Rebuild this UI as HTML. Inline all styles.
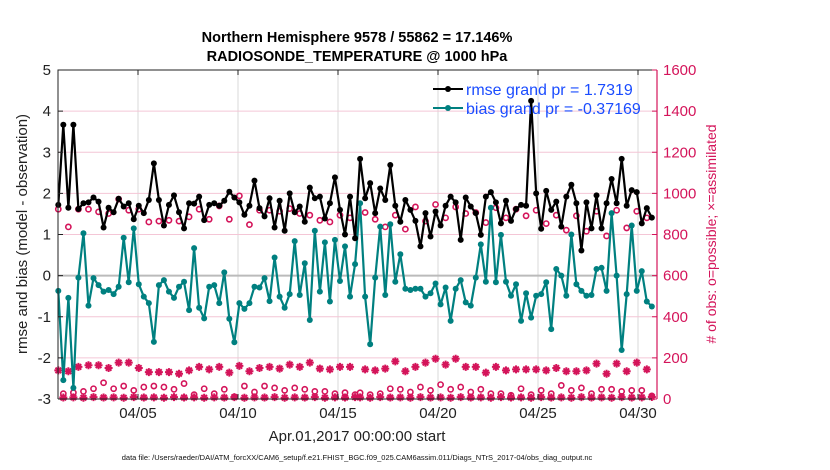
<!DOCTYPE html>
<html><head><meta charset="utf-8">
<style>
html,body{margin:0;padding:0;background:#fff;}
svg{display:block;font-family:"Liberation Sans",Arial,sans-serif;}
</style></head>
<body>
<svg id="chart" width="830" height="470" viewBox="0 0 830 470">
<g>
<text x="357" y="42" text-anchor="middle" font-size="14.5" font-weight="bold">Northern Hemisphere 9578 / 55862 = 17.146%</text>
<text x="357" y="61" text-anchor="middle" font-size="14.5" font-weight="bold">RADIOSONDE_TEMPERATURE @ 1000 hPa</text>
</g>
<g id="grid"></g>
<g id="series"></g>
<g id="axes"></g>
<g>
<line x1="433" y1="89" x2="463" y2="89" stroke="#000" stroke-width="2"/>
<circle cx="448" cy="89" r="3" fill="#000"/>
<text x="466" y="95" font-size="16" fill="#1a4cff">rmse grand pr = 1.7319</text>
<line x1="433" y1="108" x2="463" y2="108" stroke="#008080" stroke-width="2"/>
<circle cx="448" cy="108" r="3" fill="#008080"/>
<text x="466" y="114" font-size="16" fill="#1a4cff">bias grand pr = -0.37169</text>
</g>
<text transform="translate(27,234) rotate(-90)" text-anchor="middle" font-size="15" fill="#222">rmse and bias (model - observation)</text>
<text transform="translate(716,234) rotate(-90)" text-anchor="middle" font-size="14" fill="#d4145a"># of obs: o=possible; ×=assimilated</text>
<text x="357" y="441" text-anchor="middle" font-size="15" fill="#222">Apr.01,2017 00:00:00 start</text>
<text x="357" y="460" text-anchor="middle" font-size="7.5" fill="#111">data file: /Users/raeder/DAI/ATM_forcXX/CAM6_setup/f.e21.FHIST_BGC.f09_025.CAM6assim.011/Diags_NTrS_2017-04/obs_diag_output.nc</text>
</svg>
<script>
const rmse=[1.72,3.67,1.65,3.67,1.62,1.76,1.78,1.9,1.8,1.17,1.65,1.54,1.87,1.68,1.76,1.37,1.7,1.52,1.84,2.73,1.84,1.22,1.72,1.95,1.54,1.15,1.76,1.75,1.92,1.35,1.72,
1.76,1.70,1.82,2.04,1.9,1.78,1.48,1.70,2.31,1.64,1.44,1.88,1.17,1.82,1.09,2.0,1.54,1.68,1.31,2.14,1.88,1.92,1.39,1.76,2.39,1.6,1.0,1.92,0.91,
2.84,1.88,2.25,1.52,2.12,1.84,2.69,1.70,1.31,1.84,1.6,1.33,0.71,1.52,0.95,1.56,1.22,1.70,1.92,1.78,0.87,1.9,1.68,1.52,0.99,1.92,2.03,1.78,1.27,1.82,
1.33,1.62,1.72,1.70,4.25,2.0,1.14,2.06,1.6,1.8,1.19,1.92,2.21,1.76,0.61,1.78,1.15,1.95,1.15,1.76,2.35,1.76,2.84,1.70,2.08,2.03,1.27,1.64,1.41];
const bias=[-0.37,-2.54,-0.54,-2.73,-0.05,1.03,-0.73,-0.06,-0.23,-0.39,-0.35,-0.45,-0.27,0.92,-0.16,1.15,-0.21,-0.51,-0.67,-1.61,-0.23,-0.11,-0.39,-0.54,-0.27,-0.15,-0.84,0.67,-0.78,-1.04,-0.27,
-0.23,-0.67,0.08,-1.05,-1.62,-0.67,-0.81,-0.67,-0.27,-0.29,-0.06,-0.62,0.44,-0.51,-0.78,-0.45,0.84,-0.47,0.3,-1.08,1.09,-0.39,0.81,-0.63,0.87,-0.13,0.71,-0.51,0.28,
1.76,-0.51,-1.67,-0.05,1.19,-0.47,1.25,-0.15,0.52,-0.32,-0.35,-0.32,-0.32,-0.51,-0.43,-0.19,-0.70,-0.29,-1.10,-0.32,-0.11,-0.65,-0.73,-0.05,0.76,-0.15,1.65,-0.16,0.99,-0.15,
-0.49,-0.21,-1.10,-0.43,-1.02,-0.49,-0.45,-0.16,-1.30,0.16,0.0,-0.49,1.0,-0.21,-0.37,-0.49,-0.47,0.16,0.19,-0.37,1.52,0.0,-1.81,-0.45,1.22,-0.37,0.11,-0.63,-0.75];
const possible=[923,26,837,31,923,37,923,50,910,79,902,50,972,63,918,42,923,58,861,63,865,58,869,47,865,75,886,21,923,50,874,
26,939,47,874,10,988,63,848,34,918,63,918,54,913,42,926,54,902,47,894,37,869,37,861,26,894,31,881,21,
30,907,21,874,26,837,50,894,47,826,34,934,58,865,42,946,70,881,47,934,58,902,34,907,47,858,26,930,26,881,
18,923,50,891,21,918,42,853,26,894,66,821,42,891,54,816,26,913,47,793,47,918,37,832,42,913,42,881,15];
const assimilated=[139,7,135,8,156,6,164,9,164,7,151,8,177,6,177,9,151,7,131,8,131,6,131,9,123,7,139,8,156,6,144,
8,156,7,128,9,161,6,135,8,151,7,156,9,148,6,167,8,156,7,177,9,148,6,144,8,156,7,156,9,
8,144,6,139,9,148,7,183,8,135,6,156,9,177,7,196,8,167,6,196,9,156,7,156,8,128,6,156,9,139,
7,144,8,144,6,144,9,139,7,151,8,135,6,135,9,139,7,172,8,123,6,172,9,135,7,177,8,144,10];
const xTickLabels=["04/05","04/10","04/15","04/20","04/25","04/30"];
const xTickDays=[4,9,14,19,24,29];
const leftTicks=[5,4,3,2,1,0,-1,-2,-3];
const rightTicks=[1600,1400,1200,1000,800,600,400,200,0];

const NS="http://www.w3.org/2000/svg";
const X0=58,X1=657,Y0=70,Y1=399;
const xDay=d=>X0+20*d;
const timeOf=i=>0.015+i*0.2515;
const yL=v=>Y0+(5-v)*(Y1-Y0)/8;
const yR=v=>Y1-v*(Y1-Y0)/1600;
function mk(tag,attrs,parent){const e=document.createElementNS(NS,tag);for(const k in attrs)e.setAttribute(k,attrs[k]);parent.appendChild(e);return e;}
const grid=document.getElementById('grid'),series=document.getElementById('series'),axes=document.getElementById('axes');
const red="#d4145a";
xTickDays.forEach((d,k)=>{
 const g=mk('line',{x1:xDay(d),x2:xDay(d),y1:Y0,y2:Y1,stroke:'#d8d8d8','stroke-width':1},grid);
 
 
});
rightTicks.forEach(v=>{
 const g=mk('line',{x1:X0,x2:X1,y1:yR(v),y2:yR(v),stroke:'#f4c6d6','stroke-width':1},grid);
 
 
});
const zl=mk('line',{x1:X0,x2:X1,y1:yL(0),y2:yL(0),stroke:'#bbbbbb','stroke-width':2},grid);


possible.forEach((v,i)=>{
 const c=mk('circle',{cx:timeOf(i)*20+X0,cy:yR(v),r:2.6,fill:'none',stroke:red,'stroke-width':1.6},series);
 
 
});
assimilated.forEach((v,i)=>{
 const x=timeOf(i)*20+X0,y=yR(v),s=4;
 const p=mk('path',{d:`M${x-s} ${y}H${x+s}M${x} ${y-s}V${y+s}M${x-s*0.7} ${y-s*0.7}L${x+s*0.7} ${y+s*0.7}M${x-s*0.7} ${y+s*0.7}L${x+s*0.7} ${y-s*0.7}`,stroke:red,'stroke-width':2,fill:'none'},series);
 
 
});
function line(arr,color,name){
 const pts=arr.map((v,i)=>(timeOf(i)*20+X0).toFixed(1)+','+yL(v).toFixed(1)).join(' ');
 const pl=mk('polyline',{points:pts,fill:'none',stroke:color,'stroke-width':2.2,'stroke-linejoin':'round'},series);
 
 
 arr.forEach((v,i)=>{
  const c=mk('circle',{cx:timeOf(i)*20+X0,cy:yL(v),r:3,fill:color},series);
  
  
 });
}
line(bias,'#008080','bias');
line(rmse,'#000000','rmse');
const ax=mk('path',{d:`M${X0} ${Y1}V${Y0}H${X1}M${X0} ${Y1}H${X1}`,stroke:'#222',fill:'none','stroke-width':1},axes);


const rax=mk('line',{x1:X1,x2:X1,y1:Y0,y2:Y1,stroke:red,'stroke-width':1.2},axes);


xTickDays.forEach((d,k)=>{
 mk('line',{x1:xDay(d),x2:xDay(d),y1:Y1,y2:Y1-5,stroke:'#222'},axes);
 mk('line',{x1:xDay(d),x2:xDay(d),y1:Y0,y2:Y0+5,stroke:'#222'},axes);
 const t=mk('text',{x:xDay(d),y:Y1+19,'text-anchor':'middle','font-size':15,fill:'#222'},axes);
 t.textContent=xTickLabels[k];
 
 
});
leftTicks.forEach(v=>{
 mk('line',{x1:X0,x2:X0+5,y1:yL(v),y2:yL(v),stroke:'#222'},axes);
 const t=mk('text',{x:X0-7,y:yL(v)+5,'text-anchor':'end','font-size':15,fill:'#222'},axes);
 t.textContent=v;
 
 
});
rightTicks.forEach(v=>{
 mk('line',{x1:X1,x2:X1-5,y1:yR(v),y2:yR(v),stroke:red},axes);
 const t=mk('text',{x:X1+6,y:yR(v)+5,'text-anchor':'start','font-size':15,fill:red},axes);
 t.textContent=v;
 
 
});
</script>
</body></html>
